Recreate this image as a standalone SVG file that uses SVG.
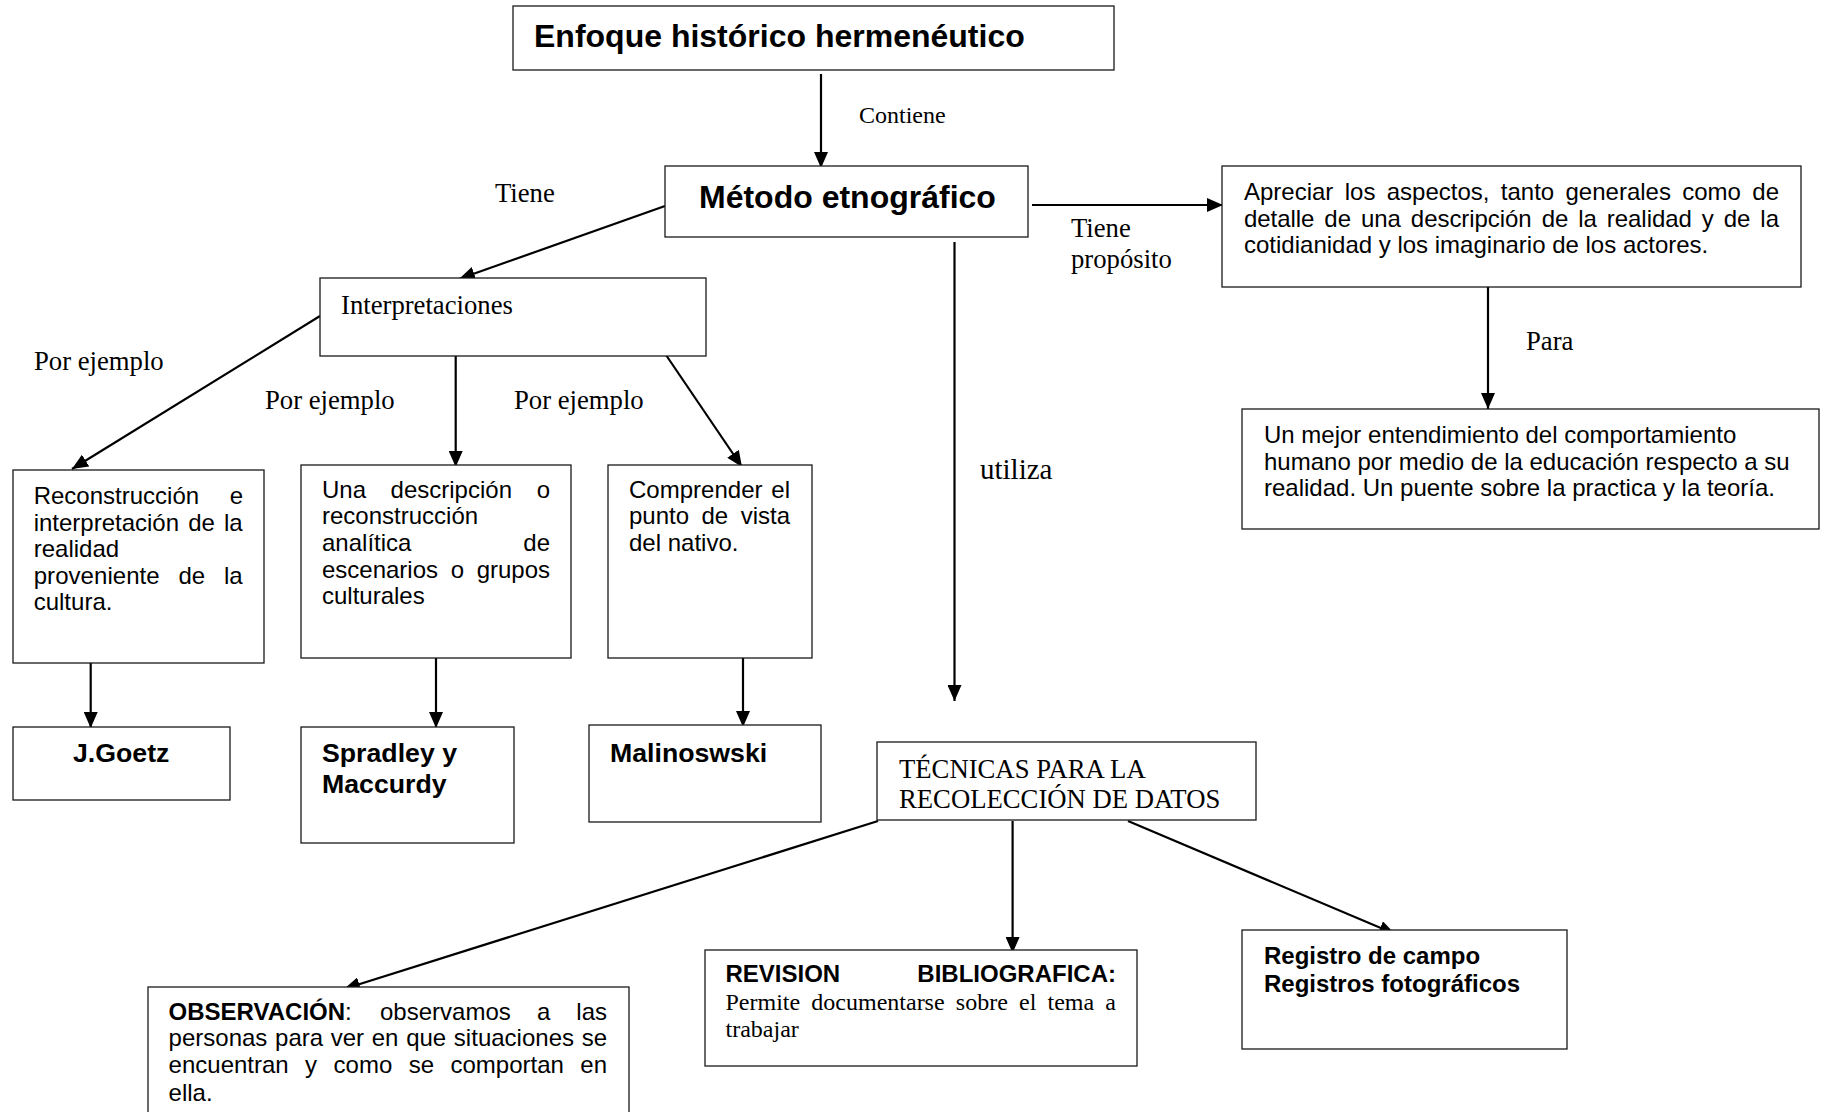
<svg xmlns="http://www.w3.org/2000/svg" width="1823" height="1112" viewBox="0 0 1823 1112">
<defs>
<style>
.box{fill:#fff;stroke:#1a1a1a;stroke-width:1.3}
.c{stroke:#000;stroke-width:2.2;fill:none;marker-end:url(#ah)}
.a{font-family:"Liberation Sans",Arial,sans-serif;font-size:24px;fill:#000}
.ab{font-family:"Liberation Sans",Arial,sans-serif;font-size:24px;font-weight:bold;fill:#000}
.an{font-family:"Liberation Sans",Arial,sans-serif;font-size:26.7px;font-weight:bold;fill:#000}
.ttl{font-family:"Liberation Sans",Arial,sans-serif;font-size:32px;font-weight:bold;fill:#000}
.t{font-family:"Liberation Serif","Times New Roman",serif;font-size:26.7px;fill:#000}
.t24{font-family:"Liberation Serif","Times New Roman",serif;font-size:24px;fill:#000}
</style>
<marker id="ah" viewBox="0 0 16 14" refX="16" refY="7" markerWidth="16" markerHeight="14" markerUnits="userSpaceOnUse" orient="auto">
<path d="M0,0 L16,7 L0,14 z" fill="#000"/>
</marker>
</defs>
<rect width="1823" height="1112" fill="#fff"/>

<g id="connectors">
<line class="c" x1="821" y1="74" x2="821" y2="168"/>
<line class="c" x1="665" y1="206" x2="459" y2="279"/>
<line class="c" x1="1032" y1="205" x2="1223" y2="205"/>
<line class="c" x1="1488" y1="287" x2="1488" y2="409"/>
<line class="c" x1="954.5" y1="242" x2="954.5" y2="701"/>
<line class="c" x1="320" y1="316" x2="72" y2="469"/>
<line class="c" x1="455.7" y1="356" x2="455.7" y2="467"/>
<line class="c" x1="666" y1="355" x2="742" y2="467"/>
<line class="c" x1="90.7" y1="653" x2="90.7" y2="728"/>
<line class="c" x1="436" y1="653" x2="436" y2="728"/>
<line class="c" x1="743" y1="653" x2="743" y2="727"/>
<line class="c" x1="878" y1="821" x2="344" y2="989"/>
<line class="c" x1="1012.6" y1="821" x2="1012.6" y2="953"/>
<line class="c" x1="1128" y1="821" x2="1395" y2="934"/>
<text class="t24" x="859" y="123">Contiene</text>
<text class="t" x="495" y="202">Tiene</text>
<text class="t" x="1071" y="237">Tiene</text>
<text class="t" x="1071" y="268">propósito</text>
<text class="t" x="1526" y="350">Para</text>
<text class="t" x="980" y="479" style="font-size:29px">utiliza</text>
<text class="t" x="34" y="370">Por ejemplo</text>
<text class="t" x="265" y="409">Por ejemplo</text>
<text class="t" x="514" y="409">Por ejemplo</text>
</g>

<g id="enfoque">
<rect class="box" x="513" y="6" width="601" height="64"/>
<text class="ttl" x="534" y="47">Enfoque histórico hermenéutico</text>
</g>

<g id="metodo">
<rect class="box" x="665" y="166" width="363" height="71"/>
<text class="ttl" x="699" y="208">Método etnográfico</text>
</g>

<g id="interpretaciones">
<rect class="box" x="320" y="278" width="386" height="78"/>
<text class="t" x="341" y="314">Interpretaciones</text>
</g>

<g id="apreciar">
<rect class="box" x="1222" y="166" width="579" height="121"/>
<text class="a" x="1244" y="200" word-spacing="4.7" textLength="535" lengthAdjust="spacing">Apreciar los aspectos, tanto generales como de</text>
<text class="a" x="1244" y="227" word-spacing="3.4" textLength="535" lengthAdjust="spacing">detalle de una descripción de la realidad y de la</text>
<text class="a" x="1244" y="253">cotidianidad y los imaginario de los actores.</text>
</g>

<g id="mejor">
<rect class="box" x="1242" y="409" width="577" height="120"/>
<text class="a" x="1264" y="443">Un mejor entendimiento del comportamiento</text>
<text class="a" x="1264" y="469.5">humano por medio de la educación respecto a su</text>
<text class="a" x="1264" y="496">realidad. Un puente sobre la practica y la teoría.</text>
</g>

<g id="reconstruccion">
<rect class="box" x="13" y="470" width="251" height="193"/>
<text class="a" x="33.7" y="504">Reconstrucción</text>
<text class="a" x="243" y="504" text-anchor="end">e</text>
<text class="a" x="33.7" y="531" word-spacing="2.5" textLength="209" lengthAdjust="spacing">interpretación de la</text>
<text class="a" x="33.7" y="557">realidad</text>
<text class="a" x="33.7" y="584" word-spacing="12" textLength="209" lengthAdjust="spacing">proveniente de la</text>
<text class="a" x="33.7" y="610">cultura.</text>
</g>

<g id="descripcion">
<rect class="box" x="301" y="465" width="270" height="193"/>
<text class="a" x="322" y="497.5">Una</text>
<text class="a" x="390.6" y="497.5">descripción</text>
<text class="a" x="550" y="497.5" text-anchor="end">o</text>
<text class="a" x="322" y="524">reconstrucción</text>
<text class="a" x="322" y="551">analítica</text>
<text class="a" x="550" y="551" text-anchor="end">de</text>
<text class="a" x="322" y="577.5" word-spacing="6" textLength="228" lengthAdjust="spacing">escenarios o grupos</text>
<text class="a" x="322" y="604">culturales</text>
</g>

<g id="comprender">
<rect class="box" x="608" y="465" width="204" height="193"/>
<text class="a" x="629" y="497.5" word-spacing="2" textLength="161" lengthAdjust="spacing">Comprender el</text>
<text class="a" x="629" y="524" word-spacing="5.8" textLength="161" lengthAdjust="spacing">punto de vista</text>
<text class="a" x="629" y="551">del nativo.</text>
</g>

<g id="goetz">
<rect class="box" x="13" y="727" width="217" height="73"/>
<text class="an" x="73" y="762">J.Goetz</text>
</g>

<g id="spradley">
<rect class="box" x="301" y="727" width="213" height="116"/>
<text class="an" x="322" y="762">Spradley y</text>
<text class="an" x="322" y="793">Maccurdy</text>
</g>

<g id="malinoswski">
<rect class="box" x="589" y="725" width="232" height="97"/>
<text class="an" x="610" y="762">Malinoswski</text>
</g>

<g id="tecnicas">
<rect class="box" x="877" y="742" width="379" height="78"/>
<text class="t" x="899" y="777.5">TÉCNICAS PARA LA</text>
<text class="t" x="899" y="808">RECOLECCIÓN DE DATOS</text>
</g>

<g id="observacion">
<rect class="box" x="148" y="987" width="481" height="140"/>
<text class="a" x="168.6" y="1019.5"><tspan class="ab">OBSERVACIÓN</tspan>:</text>
<text class="a" x="380" y="1019.5">observamos</text>
<text class="a" x="537" y="1019.5">a</text>
<text class="a" x="607" y="1019.5" text-anchor="end">las</text>
<text class="a" x="168.6" y="1046" word-spacing="1" textLength="438.4" lengthAdjust="spacing">personas para ver en que situaciones se</text>
<text class="a" x="168.6" y="1073" word-spacing="9.8" textLength="438.4" lengthAdjust="spacing">encuentran y como se comportan en</text>
<text class="a" x="168.6" y="1101">ella.</text>
</g>

<g id="revision">
<rect class="box" x="705" y="950" width="432" height="116"/>
<text class="ab" x="725.5" y="982">REVISION</text>
<text class="ab" x="1116" y="982" text-anchor="end">BIBLIOGRAFICA:</text>
<text class="t24" x="725.5" y="1010" word-spacing="5.2" textLength="390.5" lengthAdjust="spacing">Permite documentarse sobre el tema a</text>
<text class="t24" x="725.5" y="1037">trabajar</text>
</g>

<g id="registro">
<rect class="box" x="1242" y="930" width="325" height="119"/>
<text class="ab" x="1264" y="964">Registro de campo</text>
<text class="ab" x="1264" y="992">Registros fotográficos</text>
</g>
</svg>
